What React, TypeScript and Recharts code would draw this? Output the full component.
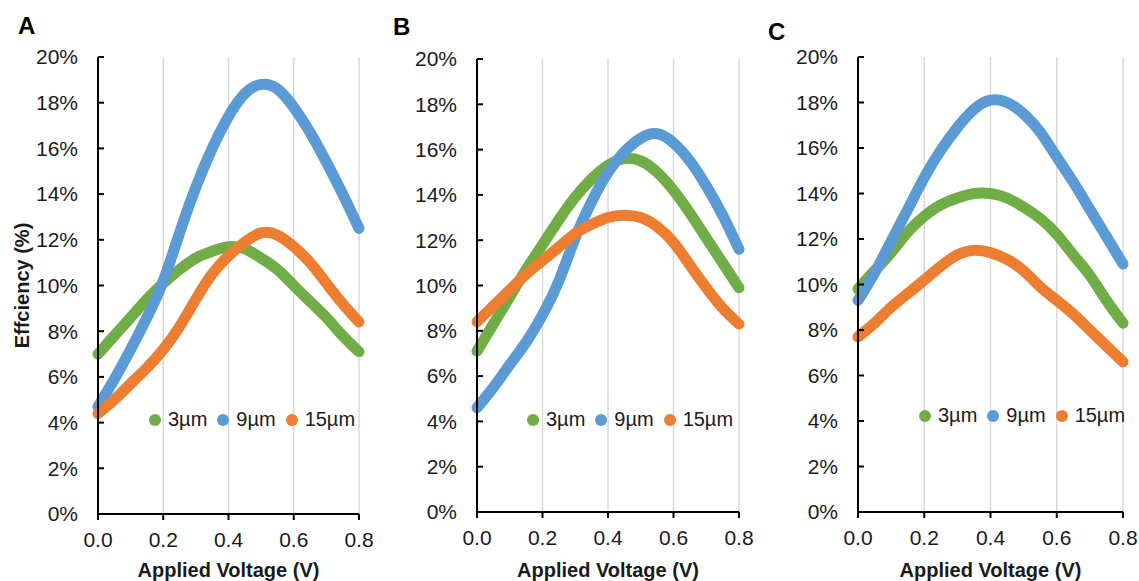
import React from 'react';
import { LineChart, Line, XAxis, YAxis, CartesianGrid, Legend, Label } from 'recharts';

// applied voltage (V), shared by all three panels
const VOLTAGE = [0, 0.05, 0.1, 0.15, 0.2, 0.25, 0.3, 0.35, 0.4, 0.45, 0.5, 0.55, 0.6, 0.65, 0.7, 0.75, 0.8];

// efficiency (%)
const A_3UM = [7.0, 7.8, 8.6, 9.4, 10.1, 10.7, 11.2, 11.5, 11.7, 11.6, 11.2, 10.7, 10.0, 9.3, 8.6, 7.8, 7.1];
const A_9UM = [4.7, 5.9, 7.2, 8.6, 10.2, 12.3, 14.3, 16.0, 17.4, 18.4, 18.8, 18.6, 17.8, 16.7, 15.4, 14.0, 12.5];
const A_15UM = [4.4, 5.0, 5.7, 6.4, 7.2, 8.2, 9.4, 10.5, 11.3, 11.9, 12.3, 12.2, 11.7, 11.0, 10.1, 9.2, 8.4];

const B_3UM = [7.1, 8.3, 9.5, 10.7, 11.8, 12.9, 13.9, 14.7, 15.3, 15.6, 15.5, 15.0, 14.2, 13.2, 12.1, 11.0, 9.9];
const B_9UM = [4.6, 5.5, 6.5, 7.5, 8.7, 10.2, 12.1, 13.7, 15.0, 15.9, 16.5, 16.7, 16.3, 15.5, 14.4, 13.1, 11.6];
const B_15UM = [8.4, 9.1, 9.8, 10.5, 11.1, 11.7, 12.3, 12.7, 13.0, 13.1, 13.0, 12.6, 11.9, 10.9, 9.9, 9.0, 8.3];

const C_3UM = [9.8, 10.6, 11.4, 12.3, 13.0, 13.5, 13.8, 14.0, 14.0, 13.8, 13.4, 12.9, 12.2, 11.3, 10.4, 9.3, 8.3];
const C_9UM = [9.3, 10.5, 11.9, 13.3, 14.7, 15.9, 16.9, 17.7, 18.1, 18.0, 17.5, 16.7, 15.6, 14.5, 13.3, 12.1, 10.9];
const C_15UM = [7.7, 8.3, 9.0, 9.6, 10.2, 10.8, 11.3, 11.5, 11.4, 11.1, 10.6, 9.9, 9.3, 8.7, 8.0, 7.3, 6.6];

const SERIES = ['3µm', '9µm', '15µm'];
const X_TICKS = [0, 0.2, 0.4, 0.6, 0.8];
const Y_TICKS = [0, 2, 4, 6, 8, 10, 12, 14, 16, 18, 20];

const FONT = 'Liberation Sans, Arial, sans-serif';
const TEXT = '#1a1a1a';

const toRows = (s3: number[], s9: number[], s15: number[]) =>
  VOLTAGE.map((v, i) => ({ v, s3: s3[i], s9: s9[i], s15: s15[i] }));

const YTick = (props: any) => {
  const { x, y, payload } = props;
  const ax = x + 20;
  return (
    <g>
      <line x1={ax} x2={ax + 6} y1={y} y2={y} stroke="#000" strokeWidth={2} />
      <text x={x} y={y} dy="0.35em" textAnchor="end" fill={TEXT} fontSize={21} fontFamily={FONT}>
        {payload.value}%
      </text>
    </g>
  );
};

const LegendContent = (props: any) => {
  const items = [...(props.payload || [])].sort(
    (a: any, b: any) => SERIES.indexOf(a.value) - SERIES.indexOf(b.value)
  );
  return (
    <div style={{ display: 'flex', alignItems: 'center', fontFamily: FONT, fontSize: 20, color: TEXT, whiteSpace: 'nowrap' }}>
      {items.map((p: any) => (
        <div key={p.value} style={{ display: 'flex', alignItems: 'center', marginRight: 10 }}>
          <span style={{ width: 12, height: 12, borderRadius: 6, background: p.color, marginRight: 7, display: 'inline-block' }} />
          <span>{p.value}</span>
        </div>
      ))}
    </div>
  );
};

interface PanelProps {
  rows: { v: number; s3: number; s9: number; s15: number }[];
  left: number;
  margin: { top: number; right: number; bottom: number; left: number };
  legendLeft: number;
  legendTop: number;
  yTitle?: boolean;
}

const Panel: React.FC<PanelProps> = ({ rows, left, margin, legendLeft, legendTop, yTitle }) => (
  <div style={{ position: 'absolute', left, top: 0 }}>
    <LineChart width={380} height={581} data={rows} margin={margin}>
      <CartesianGrid horizontal={false} stroke="#d9d9d9" strokeWidth={1.5} />
      <XAxis
        dataKey="v"
        type="number"
        domain={[0, 0.8]}
        ticks={X_TICKS}
        tickFormatter={(v: number) => v.toFixed(1)}
        height={62}
        tickSize={6}
        tickMargin={12}
        axisLine={{ stroke: '#000', strokeWidth: 2 }}
        tickLine={{ stroke: '#000', strokeWidth: 2 }}
        tick={{ fill: TEXT, fontSize: 21, fontFamily: FONT }}
      >
        <Label
          content={(p: any) => {
            const vb = p.viewBox;
            return (
              <text x={vb.x + vb.width / 2} y={577} textAnchor="middle" fontSize={20} fontWeight="bold" fontFamily={FONT} fill={TEXT}>
                Applied Voltage (V)
              </text>
            );
          }}
        />
      </XAxis>
      <YAxis
        type="number"
        domain={[0, 20]}
        ticks={Y_TICKS}
        width={60}
        tickSize={6}
        tickMargin={14}
        tickLine={false}
        axisLine={{ stroke: '#000', strokeWidth: 2 }}
        tick={<YTick />}
      >
        {yTitle && (
          <Label
            content={(p: any) => {
              const vb = p.viewBox;
              const cx = 22;
              const cy = vb.y + vb.height / 2;
              return (
                <text x={cx} y={cy} transform={`rotate(-90 ${cx} ${cy})`} dy="0.35em" textAnchor="middle" fontSize={20} fontWeight="bold" fontFamily={FONT} fill={TEXT}>
                  Effciency (%)
                </text>
              );
            }}
          />
        )}
      </YAxis>
      <Legend
        layout="horizontal"
        verticalAlign="middle"
        align="center"
        content={<LegendContent />}
        wrapperStyle={{ left: legendLeft, top: legendTop, width: 'auto' }}
      />
      <Line dataKey="s3" name="3µm" stroke="#70AD47" strokeWidth={11} strokeLinecap="round" strokeLinejoin="round" type="natural" dot={false} isAnimationActive={false} />
      <Line dataKey="s9" name="9µm" stroke="#5B9BD5" strokeWidth={11} strokeLinecap="round" strokeLinejoin="round" type="natural" dot={false} isAnimationActive={false} />
      <Line dataKey="s15" name="15µm" stroke="#ED7D31" strokeWidth={11} strokeLinecap="round" strokeLinejoin="round" type="natural" dot={false} isAnimationActive={false} />
    </LineChart>
  </div>
);

const letterStyle: React.CSSProperties = {
  position: 'absolute',
  fontFamily: FONT,
  fontWeight: 'bold',
  fontSize: 24,
  color: '#000',
  lineHeight: 1,
};

export default function App() {
  return (
    <div style={{ position: 'relative', width: 1139, height: 581, background: '#fff', overflow: 'hidden' }}>
      <style>{'html, body { margin: 0; padding: 0; overflow: hidden; }'}</style>
      <Panel
        rows={toRows(A_3UM, A_9UM, A_15UM)}
        left={0}
        margin={{ top: 57, right: 21, bottom: 5, left: 38 }}
        legendLeft={149}
        legendTop={408}
        yTitle
      />
      <Panel
        rows={toRows(B_3UM, B_9UM, B_15UM)}
        left={380}
        margin={{ top: 59, right: 21, bottom: 7, left: 37 }}
        legendLeft={147}
        legendTop={408}
      />
      <Panel
        rows={toRows(C_3UM, C_9UM, C_15UM)}
        left={760}
        margin={{ top: 57, right: 17, bottom: 7, left: 38 }}
        legendLeft={159}
        legendTop={404}
      />
      <span style={{ ...letterStyle, left: 18, top: 14 }}>A</span>
      <span style={{ ...letterStyle, left: 393, top: 15 }}>B</span>
      <span style={{ ...letterStyle, left: 768, top: 20 }}>C</span>
    </div>
  );
}
